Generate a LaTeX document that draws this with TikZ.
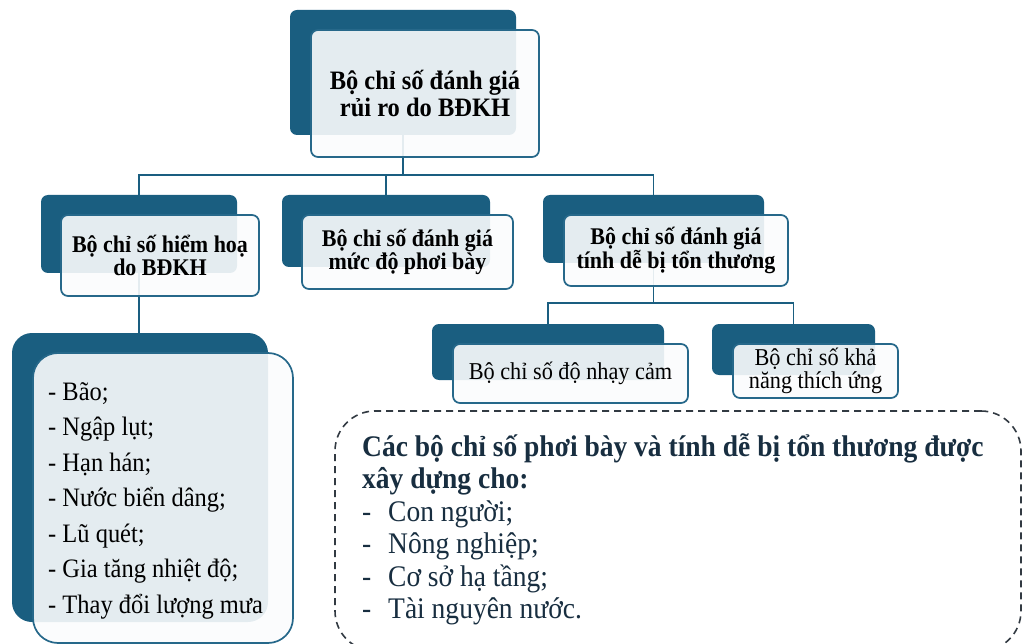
\documentclass[tikz,border=0pt]{standalone}
\usepackage{fontspec}
\setmainfont[FakeStretch=0.92]{Liberation Serif}
\definecolor{dk}{RGB}{26,94,128}
\definecolor{bd}{RGB}{38,104,138}
\definecolor{fr}{RGB}{251,252,253}
\definecolor{navy}{RGB}{24,46,64}
\definecolor{dashc}{RGB}{50,58,66}
\begin{document}
\begin{tikzpicture}[x=1pt,y=-1pt,
  backbox/.style={fill=dk, rounded corners=7pt, inner sep=0pt, outer sep=0pt},
  frontbox/.style={fill=fr, fill opacity=0.9, text opacity=1, draw=bd, line width=1.7pt,
    rounded corners=7pt, inner sep=0pt, outer sep=0pt, align=center, text=black},
  link/.style={draw=dk, line width=1.7pt},
  titlefont/.style={font=\fontsize{26.6}{26.5}\selectfont\bfseries},
  midfont/.style={font=\fontsize{23.9}{22.5}\selectfont\bfseries},
  subfont/.style={font=\fontsize{24.2}{23}\selectfont}]
\useasboundingbox (0,0) rectangle (1025,644);
\fill[white] (0,0) rectangle (1025,644);

% back boxes
\node[backbox, minimum width=226pt, minimum height=125pt] (topB) at (403,72.5) {};
\node[backbox, minimum width=196pt, minimum height=78pt] (c1B) at (139,234) {};
\node[backbox, minimum width=208pt, minimum height=72pt] (c2B) at (386,231) {};
\node[backbox, minimum width=221pt, minimum height=68pt] (c3B) at (653.5,229) {};
\node[backbox, minimum width=232pt, minimum height=56pt] (s1B) at (548,352) {};
\node[backbox, minimum width=163pt, minimum height=51pt] (s2B) at (793.5,349.5) {};
\node[backbox, rounded corners=20pt, minimum width=256pt, minimum height=289pt] (hB) at (140,477.5) {};

% connectors
\draw[link] (topB.south) -- ++(0,40) -| (c1B.north);
\draw[link] (topB.south) -- ++(0,40) -| (c2B.north);
\draw[link] (topB.south) -- ++(0,40) -| (c3B.north);
\draw[link] (c1B.south) -- (c1B.south |- hB.north);
\draw[link] (c3B.south) -- ++(0,40) -| (s1B.north);
\draw[link] (c3B.south) -- ++(0,40) -| (s2B.north);

% front boxes
\node[frontbox, titlefont, minimum width=228pt, minimum height=127pt] (topF) at (425,93.5)
  {Bộ chỉ số đánh giá\\rủi ro do BĐKH};
\node[frontbox, midfont, minimum width=198pt, minimum height=81pt] (c1F) at (160,255.5)
  {Bộ chỉ số hiểm hoạ\\do BĐKH};
\node[frontbox, midfont, minimum width=211pt, minimum height=74pt] (c2F) at (407.5,252)
  {Bộ chỉ số đánh giá\\mức độ phơi bày};
\node[frontbox, midfont, minimum width=224pt, minimum height=71pt] (c3F) at (676,250.5)
  {Bộ chỉ số đánh giá\\tính dễ bị tổn thương};
\node[frontbox, subfont, minimum width=235pt, minimum height=59pt] (s1F) at (570.5,373.5)
  {Bộ chỉ số độ nhạy cảm};
\node[frontbox, subfont, minimum width=165pt, minimum height=54pt] (s2F) at (815.5,371)
  {Bộ chỉ số khả\\năng thích ứng};
\node[frontbox, rounded corners=25pt, minimum width=260pt, minimum height=290pt] (hF) at (163,498) {};
\node[anchor=base west, inner sep=0pt, text=black, font=\fontsize{26.6}{35.5}\selectfont] (hT) at (48,400)
  {\begin{tabular}[t]{@{}l@{}}- Bão;\\- Ngập lụt;\\- Hạn hán;\\- Nước biển dâng;\\- Lũ quét;\\- Gia tăng nhiệt độ;\\- Thay đổi lượng mưa\end{tabular}};

% dashed note
\node[draw=dashc, line width=1.6pt, dash pattern=on 7pt off 5pt, rounded corners=40pt,
  minimum width=686pt, minimum height=240pt, inner sep=0pt] (note) at (678,531) {};
\node[anchor=base west, inner sep=0pt, text=navy, font=\fontsize{29.9}{32.5}\selectfont] (noteT) at (362,456)
  {\begin{tabular}[t]{@{}l@{}}\bfseries Các bộ chỉ số phơi bày và tính dễ bị tổn thương được\\
  \bfseries xây dựng cho:\\
  \makebox[26pt][l]{-}Con người;\\
  \makebox[26pt][l]{-}Nông nghiệp;\\
  \makebox[26pt][l]{-}Cơ sở hạ tầng;\\
  \makebox[26pt][l]{-}Tài nguyên nước.\end{tabular}};
\end{tikzpicture}
\end{document}
